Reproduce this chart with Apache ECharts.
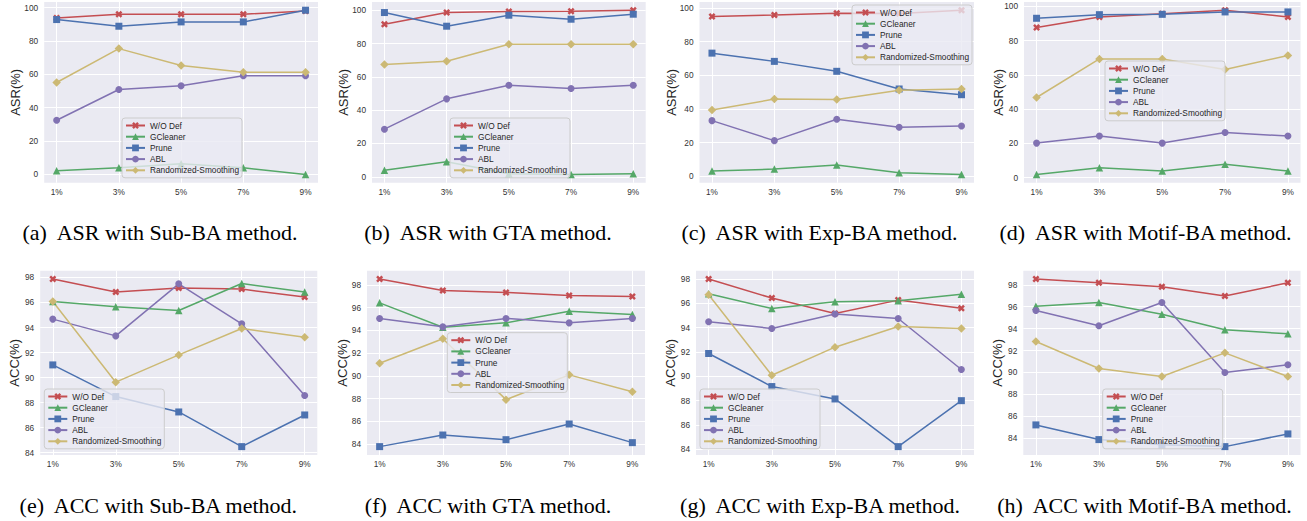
<!DOCTYPE html>
<html><head><meta charset="utf-8">
<script src="https://cdn.jsdelivr.net/npm/echarts@6/dist/echarts.min.js"></script>
<style>html,body{margin:0;padding:0;background:#fff}#c{width:1307px;height:521px}</style>
</head><body><div id="c"></div>
<script>
// ---------------- data ----------------
const categories = ['1%', '3%', '5%', '7%', '9%'];
const xValues = [1, 3, 5, 7, 9];
const methods = ['W/O Def', 'GCleaner', 'Prune', 'ABL', 'Randomized-Smoothing'];
const asrTicks = [0, 20, 40, 60, 80, 100];
const accTicks = [84, 86, 88, 90, 92, 94, 96, 98];

// rows follow `methods` order
const asrSubBA = [
  [93.8, 96.0, 96.0, 96.0, 98.0],
  [2.2, 4.0, 6.4, 4.0, 0.0],
  [92.8, 88.8, 91.4, 91.4, 98.4],
  [32.5, 50.9, 53.1, 59.1, 59.1],
  [55.1, 75.4, 65.3, 61.3, 61.3]
];
const asrGTA = [
  [91.6, 98.6, 99.2, 99.4, 100.0],
  [4.0, 9.0, 1.8, 1.4, 1.8],
  [98.6, 90.4, 97.0, 94.6, 97.6],
  [28.6, 46.8, 55.0, 53.0, 55.0],
  [67.4, 69.4, 79.6, 79.6, 79.6]
];
const asrExpBA = [
  [94.9, 95.8, 96.8, 96.6, 98.6],
  [3.0, 4.2, 6.7, 2.0, 1.0],
  [73.1, 68.2, 62.3, 51.8, 48.4],
  [33.0, 21.1, 33.8, 29.1, 29.8],
  [39.3, 45.8, 45.5, 51.0, 51.8]
];
const asrMotifBA = [
  [87.6, 93.8, 95.7, 97.7, 93.8],
  [1.9, 5.8, 3.9, 7.8, 3.9],
  [93.0, 95.1, 95.3, 96.7, 96.7],
  [20.2, 24.3, 20.2, 26.4, 24.3],
  [46.8, 69.3, 69.3, 63.1, 71.3]
];
const accSubBA = [
  [97.87, 96.83, 97.15, 97.07, 96.43],
  [96.08, 95.65, 95.36, 97.52, 96.83],
  [91.01, 88.48, 87.25, 84.48, 87.01],
  [94.67, 93.33, 97.49, 94.29, 88.56],
  [96.08, 89.63, 91.81, 93.92, 93.23]
];
const accGTA = [
  [98.5, 97.5, 97.32, 97.06, 96.97],
  [96.41, 94.27, 94.65, 95.68, 95.39],
  [83.77, 84.79, 84.38, 85.76, 84.12],
  [95.04, 94.3, 95.04, 94.65, 95.04],
  [91.1, 93.25, 87.9, 90.08, 88.6]
];
const accExpBA = [
  [98.0, 96.44, 95.17, 96.27, 95.61],
  [96.79, 95.58, 96.13, 96.22, 96.76],
  [91.88, 89.16, 88.14, 84.22, 88.0],
  [94.49, 93.94, 95.12, 94.76, 90.56],
  [96.71, 90.09, 92.4, 94.1, 93.94]
];
const accMotifBA = [
  [98.52, 98.18, 97.82, 96.97, 98.18],
  [96.05, 96.39, 95.32, 93.89, 93.53],
  [85.22, 83.88, 83.4, 83.24, 84.4],
  [95.66, 94.26, 96.39, 90.0, 90.7],
  [92.83, 90.36, 89.63, 91.79, 89.63]
];
const captions = [
  '(a)  ASR with Sub-BA method.', '(b)  ASR with GTA method.',
  '(c)  ASR with Exp-BA method.', '(d)  ASR with Motif-BA method.',
  '(e)  ACC with Sub-BA method.', '(f)  ACC with GTA method.',
  '(g)  ACC with Exp-BA method.', '(h)  ACC with Motif-BA method.'
];

// ---------------- styles / layout ----------------
const colors = ['#C44E52', '#55A868', '#4C72B0', '#8172B2', '#CCB974'];
const xMark = 'path://M1,0L2,1L3,0L4,1L3,2L4,3L3,4L2,3L1,4L0,3L1,2L0,1Z';
const symbols = [xMark, 'triangle', 'rect', 'circle', 'diamond'];
const symSizes = [7, 7.5, 7, 7, 8.5];
const FONT = '"Liberation Sans", Arial, sans-serif';

const panels = [
  {data: asrSubBA,   ticks: asrTicks, name: 'ASR(%)', l: 44.2,  r: 318,    t: 2,     b: 182.7, gap: 22, lg: [122, 118],   cap: [160, 232]},
  {data: asrGTA,     ticks: asrTicks, name: 'ASR(%)', l: 372,   r: 645.7,  t: 2,     b: 182.7, gap: 22, lg: [450, 118],   cap: [488, 232]},
  {data: asrExpBA,   ticks: asrTicks, name: 'ASR(%)', l: 699.5, r: 974,    t: 2,     b: 182.7, gap: 22, lg: [852, 5],     cap: [819.5, 232]},
  {data: asrMotifBA, ticks: asrTicks, name: 'ASR(%)', l: 1024,  r: 1300.5, t: 2,     b: 182.7, gap: 19, lg: [1105, 61],   cap: [1145.5, 232]},
  {data: accSubBA,   ticks: accTicks, name: 'ACC(%)', l: 40.2,  r: 317.3,  t: 270.7, b: 455,   gap: 19, lg: [44.3, 389],  cap: [158.3, 505.5]},
  {data: accGTA,     ticks: accTicks, name: 'ACC(%)', l: 367,   r: 645,    t: 270.7, b: 455,   gap: 18, lg: [447.3, 332.7], cap: [488, 505.5]},
  {data: accExpBA,   ticks: accTicks, name: 'ACC(%)', l: 696,   r: 974,    t: 270.7, b: 455,   gap: 19, lg: [700, 389],   cap: [820, 505.5]},
  {data: accMotifBA, ticks: accTicks, name: 'ACC(%)', l: 1023.3, r: 1300.5, t: 270.7, b: 455,  gap: 19, lg: [1102.7, 389], cap: [1144.5, 505.5]}
];

function margin5(arr) {
  const lo = Math.min(...arr), hi = Math.max(...arr), m = (hi - lo) * 0.05;
  return [lo - m, hi + m];
}
const xr = margin5(xValues);

const grid = [], xAxis = [], yAxis = [], legend = [], series = [], graphic = [];
panels.forEach((p, pi) => {
  grid.push({left: p.l, top: p.t, width: p.r - p.l, height: p.b - p.t, show: true,
    backgroundColor: '#EAEAF2', borderWidth: 0, containLabel: false, outerBoundsMode: 'none'});
  xAxis.push({gridIndex: pi, type: 'value', min: xr[0], max: xr[1],
    axisLine: {show: false}, axisTick: {show: false, customValues: xValues},
    axisLabel: {customValues: xValues, formatter: v => categories[xValues.indexOf(v)],
      margin: 5, fontSize: 8.3, color: '#333', fontFamily: FONT},
    splitLine: {show: true, lineStyle: {color: '#ffffff', width: 1}}});
  const yr = margin5(p.data.flat());
  yAxis.push({gridIndex: pi, type: 'value', min: yr[0], max: yr[1],
    name: p.name, nameLocation: 'middle', nameGap: p.gap, nameMoveOverlap: false,
    nameTextStyle: {fontSize: 13, color: '#262626', fontFamily: FONT},
    axisLine: {show: false}, axisTick: {show: false, customValues: p.ticks},
    axisLabel: {customValues: p.ticks, margin: 6, fontSize: 8.3, color: '#333', fontFamily: FONT},
    splitLine: {show: true, lineStyle: {color: '#ffffff', width: 1}}});
  legend.push({data: methods, orient: 'vertical', left: p.lg[0], top: p.lg[1],
    itemWidth: 19, itemHeight: 8.5, itemGap: 2.2, padding: [3, 3, 3, 3],
    backgroundColor: 'rgba(234,234,242,0.8)', borderColor: '#cccccc', borderWidth: 1, borderRadius: 3,
    selectedMode: false, z: 10,
    textStyle: {fontFamily: FONT, fontSize: 8.3, color: '#262626', lineHeight: 9}});
  methods.forEach((m, mi) => {
    series.push({type: 'line', name: m, xAxisIndex: pi, yAxisIndex: pi,
      data: xValues.map((x, i) => [x, p.data[mi][i]]),
      symbol: symbols[mi], symbolSize: symSizes[mi], showSymbol: true,
      lineStyle: {width: 1.5, color: colors[mi]}, itemStyle: {color: colors[mi]},
      emphasis: {disabled: true}, silent: true});
  });
  graphic.push({type: 'text', x: p.cap[0], y: p.cap[1],
    style: {text: captions[pi], font: '22px "Liberation Serif", "Times New Roman", serif',
      fill: '#000', align: 'center', verticalAlign: 'middle', textAlign: 'center', textVerticalAlign: 'middle'}});
});

const chart = echarts.init(document.getElementById('c'), null, {renderer: 'svg'});
chart.setOption({animation: false, backgroundColor: '#ffffff', grid, xAxis, yAxis, legend, series, graphic, tooltip: {show: false}});
</script></body></html>
